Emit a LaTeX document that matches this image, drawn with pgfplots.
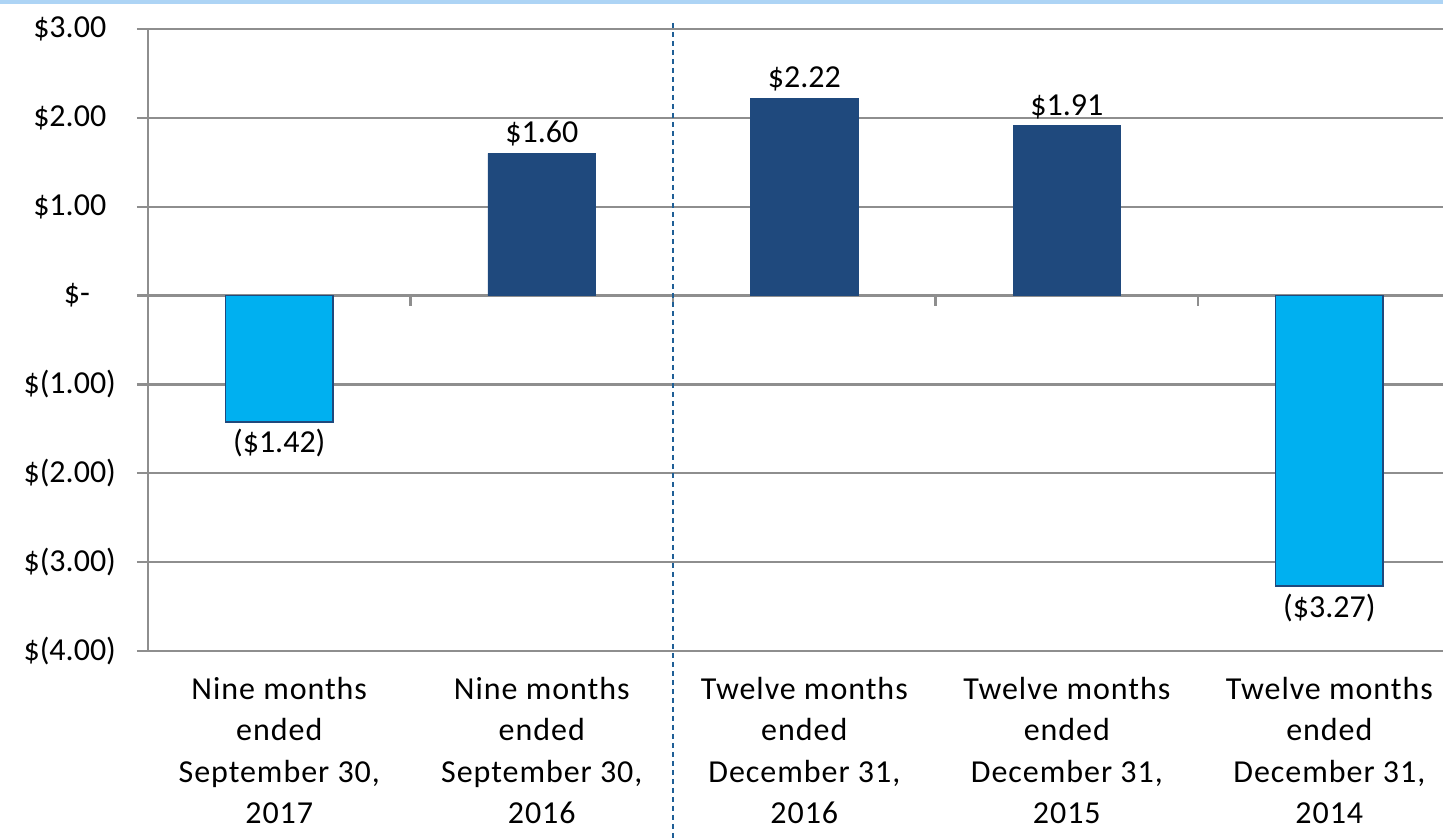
\documentclass[border=0pt]{standalone}
\usepackage{fontspec}
\setmainfont{Carlito}
\usepackage{pgfplots}
\pgfplotsset{compat=1.18}
\definecolor{darkbar}{HTML}{1F497D}
\definecolor{lightbar}{HTML}{00B0F0}
\definecolor{gridgray}{HTML}{8E8E8E}
\definecolor{dashblue}{HTML}{1F5F96}
\definecolor{band}{HTML}{ADD4F5}
\begin{document}
\begin{tikzpicture}
\begin{axis}[
  at={(0,0)}, anchor=south west,
  width=647.5pt, height=311pt, scale only axis,
  xmin=-0.5, xmax=4.433,
  ymin=-4, ymax=3,
  ybar, bar width=0.41, bar shift=0pt,
  axis x line=bottom, axis y line=left,
  axis line style={-, gridgray, line width=1.1pt},
  ytick={-4,-3,-2,-1,0,1,2,3},
  yticklabels={\$(4.00),\$(3.00),\$(2.00),\$(1.00),\$-\hphantom{0)},\$1.00\hphantom{)},\$2.00\hphantom{)},\$3.00\hphantom{)}},
  xtick={0,1,2,3,4},
  xticklabels={{Nine months\\ended\\September 30,\\2017},{Nine months\\ended\\September 30,\\2016},{Twelve months\\ended\\December 31,\\2016},{Twelve months\\ended\\December 31,\\2015},{Twelve months\\ended\\December 31,\\2014}},
  x tick style={draw=none},
  y tick style={gridgray, line width=1.1pt},
  tick align=outside, major tick length=5.5pt,
  ymajorgrids, major grid style={gridgray, line width=1.1pt},
  xticklabel style={font=\fontsize{16}{20.6}\selectfont\addfontfeature{LetterSpace=3}, align=center, yshift=-6.5pt, inner sep=1pt},
  yticklabel style={font=\fontsize{16}{22}\selectfont, xshift=-7pt},
  nodes near coords, point meta=explicit symbolic,
  every node near coord/.append style={font=\fontsize{16}{22}\selectfont, text=black},
  clip=false,
]
\addplot[fill=darkbar, draw=darkbar, nodes near coords style={anchor=south}] coordinates {(1,1.60) [\$1.60] (2,2.22) [\$2.22] (3,1.91) [\$1.91]};
\addplot[fill=lightbar, draw=darkbar, line width=0.8pt, nodes near coords style={anchor=north}] coordinates {(0,-1.42) [(\$1.42)] (4,-3.27) [(\$3.27)]};
\draw[gridgray, line width=1.1pt] (axis cs:0.5,0) -- ([yshift=-5pt]axis cs:0.5,0);
\draw[gridgray, line width=1.1pt] (axis cs:1.5,0) -- ([yshift=-5pt]axis cs:1.5,0);
\draw[gridgray, line width=1.1pt] (axis cs:2.5,0) -- ([yshift=-5pt]axis cs:2.5,0);
\draw[gridgray, line width=1.1pt] (axis cs:3.5,0) -- ([yshift=-5pt]axis cs:3.5,0);
\draw[dashblue, line width=0.8pt, dash pattern=on 2.5pt off 2pt] (axis cs:1.5,3.07) -- (axis cs:1.5,-6.1);
\end{axis}
\fill[band] (-74pt,323.5pt) rectangle (647.5pt,325.5pt);
\pgfresetboundingbox
\path (-74pt,-93pt) rectangle (647.5pt,325.5pt);
\end{tikzpicture}
\end{document}
